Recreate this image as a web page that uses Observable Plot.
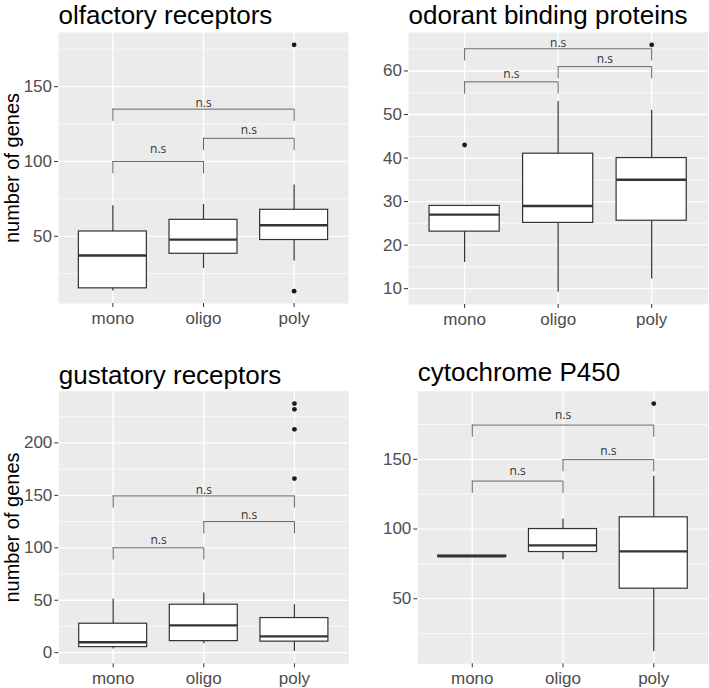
<!DOCTYPE html>
<html><head><meta charset="utf-8">
<script src="https://cdn.jsdelivr.net/npm/d3@7"></script>
<script src="https://cdn.jsdelivr.net/npm/@observablehq/plot@0.6"></script>
<style>
body{margin:0;background:#fff;}
#root{position:relative;width:709px;height:688px;overflow:hidden;background:#fff;}
.cell{position:absolute;}
.cell svg{overflow:visible;}
</style></head><body><div id="root"></div>
<script>
// ---- data ----
const categories = ["mono", "oligo", "poly"];
const bracketPairs = [["mono", "oligo"], ["oligo", "poly"], ["mono", "poly"]];
const bracketLabel = "n.s";
const yLabel = "number of genes";

// olfactory receptors
const olfTitle = "olfactory receptors";
const olfLow = [13.5, 28.5, 33.5];
const olfQ1 = [15.2, 38.3, 47.5];
const olfMed = [37.2, 47.8, 57.4];
const olfQ3 = [53.2, 61, 67.7];
const olfHigh = [70.4, 71.3, 84.3];
const olfOutCat = ["poly", "poly"];
const olfOutVal = [178, 13.3];
const olfBracketY = [100, 115.5, 135];
const olfMajor = [50, 100, 150];
const olfMinor = [25, 75, 125, 175];

// odorant binding proteins
const obpTitle = "odorant binding proteins";
const obpLow = [16, 9.2, 12.2];
const obpQ1 = [23.1, 25.1, 25.6];
const obpMed = [27, 29, 35];
const obpQ3 = [29, 41, 40];
const obpHigh = [29, 53, 51];
const obpOutCat = ["mono", "poly"];
const obpOutVal = [43, 66];
const obpBracketY = [57.5, 61, 65.1];
const obpMajor = [10, 20, 30, 40, 50, 60];
const obpMinor = [15, 25, 35, 45, 55, 65];

// gustatory receptors
const grTitle = "gustatory receptors";
const grLow = [3.5, 8.6, 1.2];
const grQ1 = [5.3, 11, 10.5];
const grMed = [10, 26, 15.5];
const grQ3 = [27.6, 45.7, 33];
const grHigh = [51, 56.8, 45.7];
const grOutCat = ["poly", "poly", "poly", "poly"];
const grOutVal = [166, 213, 232, 237.5];
const grBracketY = [100, 125, 149.5];
const grMajor = [0, 50, 100, 150, 200];
const grMinor = [25, 75, 125, 175, 225];

// cytochrome P450
const cypTitle = "cytochrome P450";
const cypLow = [80, 78, 12.2];
const cypQ1 = [80, 83.5, 57.2];
const cypMed = [80.5, 88.3, 84];
const cypQ3 = [81, 100, 108.4];
const cypHigh = [81, 107, 137.8];
const cypOutCat = ["poly"];
const cypOutVal = [190];
const cypBracketY = [134.4, 149.8, 174.6];
const cypMajor = [50, 100, 150];
const cypMinor = [25, 75, 125, 175];

// ---- drawing ----
const FONT = "Liberation Sans, Arial, sans-serif";
const pos = c => categories.indexOf(c) + 1;
const HALF = 0.375;

function panel(s) {
  const rows = categories.map((c, i) => ({cat: c, p: i + 1, lo: s.low[i], q1: s.q1[i], med: s.med[i], q3: s.q3[i], hi: s.high[i]}));
  const outs = s.outCat.map((c, i) => ({p: pos(c), v: s.outVal[i]}));
  const br = bracketPairs.map((pr, i) => ({a: pos(pr[0]), b: pos(pr[1]), y: s.bracketY[i], gap: s.labelGap[i]}));
  const all = [...s.low, ...s.high, ...s.outVal, ...s.bracketY];
  const mn = d3.min(all), mx = d3.max(all), pad = (mx - mn) * 0.05;
  const dom = [mn - pad, mx + pad];
  const tip = (dom[1] - dom[0]) * 0.045;
  const tips = br.flatMap(d => [{p: d.a, y: d.y}, {p: d.b, y: d.y}]);
  const marks = [
    Plot.frame({fill: "#EBEBEB", stroke: null}),
    Plot.gridY(s.minor, {stroke: "white", strokeOpacity: 1, strokeWidth: 0.7}),
    Plot.gridY(s.major, {stroke: "white", strokeOpacity: 1, strokeWidth: 1.3}),
    Plot.gridX([1, 2, 3], {stroke: "white", strokeOpacity: 1, strokeWidth: 1.3}),
    Plot.ruleX(rows, {x: "p", y1: "q3", y2: "hi", stroke: "#333", strokeWidth: 1.2}),
    Plot.ruleX(rows, {x: "p", y1: "lo", y2: "q1", stroke: "#333", strokeWidth: 1.2}),
    Plot.rect(rows, {x1: d => d.p - HALF, x2: d => d.p + HALF, y1: "q1", y2: "q3", fill: "white", stroke: "#333", strokeWidth: 1.2}),
    Plot.ruleY(rows, {x1: d => d.p - HALF, x2: d => d.p + HALF, y: "med", stroke: "#333", strokeWidth: 2.4}),
    Plot.dot(outs, {x: "p", y: "v", r: 2.4, fill: "#1a1a1a", stroke: null}),
    Plot.ruleY(br, {x1: "a", x2: "b", y: "y", stroke: "#666", strokeWidth: 1}),
    Plot.ruleX(tips, {x: "p", y1: "y", y2: d => d.y - tip, stroke: "#666", strokeWidth: 1})
  ];
  br.forEach(d => {
    marks.push(Plot.text([d], {x: e => (e.a + e.b) / 2, y: "y", text: () => bracketLabel, dy: -d.gap, lineAnchor: "bottom", fontSize: 12, fontFamily: "Open Sans, Noto Sans, sans-serif", fill: "#333"}));
  });
  marks.push(
    Plot.axisX([1, 2, 3], {tickFormat: i => categories[i - 1], tickSize: 4, tickPadding: 4, fontSize: 17, fill: "#4d4d4d", stroke: "#333", label: null}),
    Plot.axisY(s.major, {tickSize: 4, tickPadding: 2.5, fontSize: 17, fill: "#4d4d4d", stroke: "#333", label: null}),
    Plot.text([s.title], {text: d => d, frameAnchor: "top-left", dy: s.titleBase - s.mt, textAnchor: "start", lineAnchor: "bottom", fontSize: 26, fill: "#000", fontFamily: FONT})
  );
  if (s.showYLabel) {
    marks.push(Plot.text([yLabel], {text: d => d, frameAnchor: "left", rotate: -90, dx: 12.5 - s.ml, textAnchor: "middle", lineAnchor: "middle", fontSize: 20, fill: "#000", fontFamily: FONT}));
  }
  const svg = Plot.plot({
    width: s.w, height: s.h,
    marginLeft: s.ml, marginRight: s.mr, marginTop: s.mt, marginBottom: s.mb,
    x: {type: "linear", domain: [0.4, 3.6], axis: null},
    y: {type: "linear", domain: dom, axis: null},
    style: {fontFamily: FONT, fontSize: "17px", background: "transparent", overflow: "visible"},
    marks
  });
  const div = document.createElement("div");
  div.className = "cell";
  div.style.left = s.left + "px";
  div.style.top = s.top + "px";
  div.appendChild(svg);
  document.getElementById("root").appendChild(div);
}

panel({title: olfTitle, low: olfLow, q1: olfQ1, med: olfMed, q3: olfQ3, high: olfHigh, outCat: olfOutCat, outVal: olfOutVal, bracketY: olfBracketY, major: olfMajor, minor: olfMinor,
  left: 0, top: 0, w: 355, h: 340, ml: 58, mr: 7, mt: 32, mb: 37, titleBase: 23.6, showYLabel: true, labelGap: [8.5, 4.3, 2.5]});
panel({title: obpTitle, low: obpLow, q1: obpQ1, med: obpMed, q3: obpQ3, high: obpHigh, outCat: obpOutCat, outVal: obpOutVal, bracketY: obpBracketY, major: obpMajor, minor: obpMinor,
  left: 355, top: 0, w: 354, h: 340, ml: 53, mr: 1.7, mt: 32, mb: 36, titleBase: 23.6, showYLabel: false, labelGap: [4.3, 3.3, 2]});
panel({title: grTitle, low: grLow, q1: grQ1, med: grMed, q3: grQ3, high: grHigh, outCat: grOutCat, outVal: grOutVal, bracketY: grBracketY, major: grMajor, minor: grMinor,
  left: 0, top: 340, w: 355, h: 348, ml: 58.3, mr: 6.7, mt: 50.7, mb: 24.7, titleBase: 43.3, showYLabel: true, labelGap: [3.3, 3, 2.2]});
panel({title: cypTitle, low: cypLow, q1: cypQ1, med: cypMed, q3: cypQ3, high: cypHigh, outCat: cypOutCat, outVal: cypOutVal, bracketY: cypBracketY, major: cypMajor, minor: cypMinor,
  left: 355, top: 340, w: 354, h: 348, ml: 62.3, mr: 1.3, mt: 50.7, mb: 24.7, titleBase: 40, showYLabel: false, labelGap: [5.7, 4.3, 6.4]});
</script>
</body></html>
